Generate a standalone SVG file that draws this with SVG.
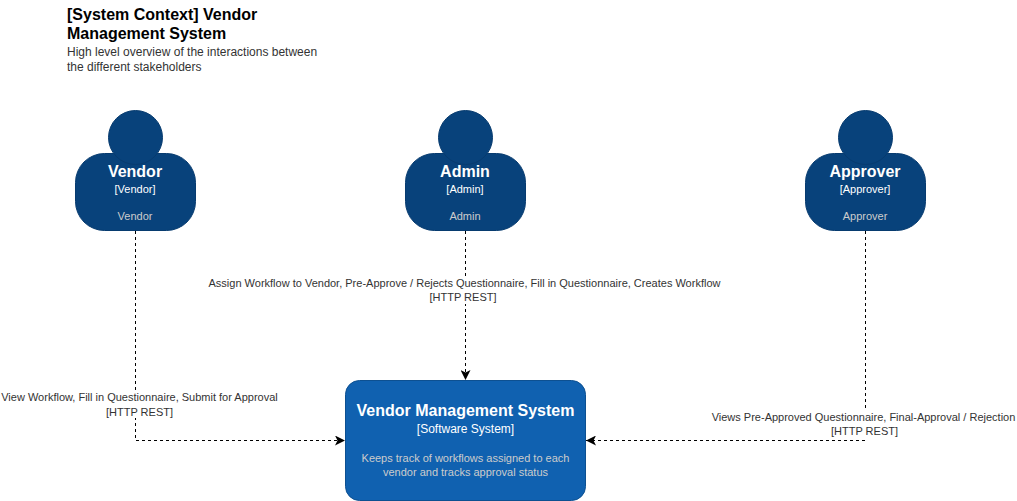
<svg xmlns="http://www.w3.org/2000/svg" width="1017" height="501" viewBox="0 0 1017 501">
<style>
text{font-family:"Liberation Sans",Arial,sans-serif;text-anchor:middle}
.body{fill:#08427b;stroke:#073b6f;stroke-width:1}
.name{fill:#fff;font-size:16px;font-weight:bold}
.tag{fill:#fff;font-size:11px}
.tag2{fill:#fff;font-size:12px}
.desc{fill:#cccccc;font-size:11px}
.lbl{fill:#333;font-size:11px}
.conn{fill:none;stroke:#000;stroke-width:1;stroke-dasharray:3 3}
.title{fill:#000;font-size:16px;font-weight:bold;text-anchor:start}
.sub{fill:#333;font-size:12px;text-anchor:start}
</style>
<defs>
<marker id="a" markerUnits="userSpaceOnUse" markerWidth="10" markerHeight="10" refX="8" refY="4" orient="auto" viewBox="0 0 8 8"><path d="M0 0L8 4L0 8L2 4Z" fill="#000"/></marker>
</defs>
<g id="title">
<text class="title" x="67" y="20">[System Context] Vendor</text>
<text class="title" x="67" y="39">Management System</text>
<text class="sub" x="67" y="56">High level overview of the interactions between</text>
<text class="sub" x="67" y="71">the different stakeholders</text>
</g>
<g id="connectors">
<path class="conn" d="M135.500 231V440.500H345" marker-end="url(#a)"/>
<path class="conn" d="M465.500 231V380" marker-end="url(#a)"/>
<path class="conn" d="M865.500 231V440.500H586" marker-end="url(#a)"/>
<rect x="205" y="277" width="520" height="27" fill="#fff"/>
<rect x="0" y="391" width="280" height="27" fill="#fff"/>
<rect x="710" y="411" width="307" height="27" fill="#fff"/>
<text class="lbl" x="464.500" y="287">Assign Workflow to Vendor, Pre-Approve / Rejects Questionnaire, Fill in Questionnaire, Creates Workflow</text>
<text class="lbl" x="463" y="301">[HTTP REST]</text>
<text class="lbl" x="139.500" y="401">View Workflow, Fill in Questionnaire, Submit for Approval</text>
<text class="lbl" x="139.500" y="416">[HTTP REST]</text>
<text class="lbl" x="863.500" y="421">Views Pre-Approved Questionnaire, Final-Approval / Rejection</text>
<text class="lbl" x="864.500" y="435">[HTTP REST]</text>
</g>
<g id="vendor">
<rect class="body" x="75.500" y="153.500" width="120" height="77" rx="29"/>
<circle class="body" cx="135.500" cy="137.500" r="27"/>
<text class="name" x="135" y="177">Vendor</text>
<text class="tag" x="135" y="193">[Vendor]</text>
<text class="desc" x="135" y="220">Vendor</text>
</g>
<g id="admin">
<rect class="body" x="405.500" y="153.500" width="120" height="77" rx="29"/>
<circle class="body" cx="465.500" cy="137.500" r="27"/>
<text class="name" x="465" y="177">Admin</text>
<text class="tag" x="465" y="193">[Admin]</text>
<text class="desc" x="465" y="220">Admin</text>
</g>
<g id="approver">
<rect class="body" x="805.500" y="153.500" width="120" height="77" rx="29"/>
<circle class="body" cx="865.500" cy="137.500" r="27"/>
<text class="name" x="865" y="177">Approver</text>
<text class="tag" x="865" y="193">[Approver]</text>
<text class="desc" x="865" y="220">Approver</text>
</g>
<g id="system">
<rect x="345.500" y="380.500" width="240" height="120" rx="14" fill="#1061b0" stroke="#0d5091"/>
<text class="name" x="465.500" y="416">Vendor Management System</text>
<text class="tag2" x="465.500" y="433">[Software System]</text>
<text class="desc" x="465.500" y="462">Keeps track of workflows assigned to each</text>
<text class="desc" x="465.500" y="476">vendor and tracks approval status</text>
</g>
</svg>
